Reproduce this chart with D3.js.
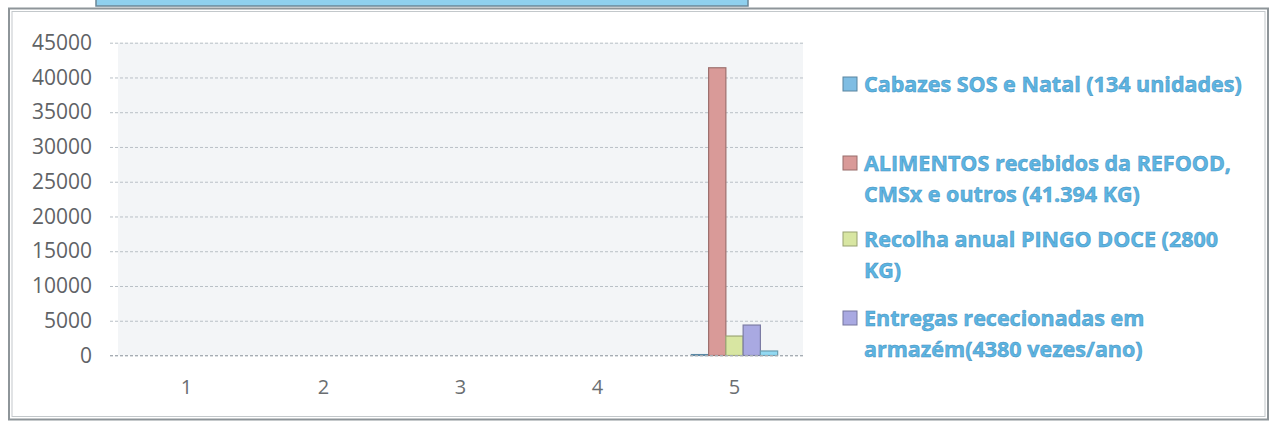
<html>
  <head>
    <meta charset='utf-8'>
    <script src='https://d3js.org/d3.v7.min.js'></script>
    <style>
      body { margin: 0; background: #fff; }
      text { font-family: 'Open Sans', sans-serif; }
    </style>
  </head>
  <body>
    <div id='chart'></div>
    <script>
        // data
        const categories = ['1', '2', '3', '4', '5'];
        const seriesNames = [
            'Cabazes SOS e Natal (134 unidades)',
            'ALIMENTOS recebidos da REFOOD, CMSx e outros (41.394 KG)',
            'Recolha anual PINGO DOCE (2800 KG)',
            'Entregas rececionadas em armazém(4380 vezes/ano)',
            ''
        ];
        const seriesColors = ['#7fbde3', '#d99a98', '#d8e6a2', '#a9a9e2', '#92d9f2'];
        // values per series, one per category
        const cabazes   = [0, 0, 0, 0, 134];
        const alimentos = [0, 0, 0, 0, 41394];
        const pingoDoce = [0, 0, 0, 0, 2800];
        const entregas  = [0, 0, 0, 0, 4380];
        const outro     = [0, 0, 0, 0, 650];
        const seriesValues = [cabazes, alimentos, pingoDoce, entregas, outro];
        const yTicks = [0, 5000, 10000, 15000, 20000, 25000, 30000, 35000, 40000, 45000];
        // legend lines as they wrap in the original
        const legendLines = [
            ['Cabazes SOS e Natal (134 unidades)'],
            ['ALIMENTOS recebidos da REFOOD,', 'CMSx e outros (41.394 KG)'],
            ['Recolha anual PINGO DOCE (2800', 'KG)'],
            ['Entregas rececionadas em', 'armazém(4380 vezes/ano)']
        ];

        const W = 1270, H = 424;
        const plot = { left: 118, right: 803, top: 42.7, bottom: 355.5 };

        var svg = d3.select('#chart').append('svg')
                    .attr('width', W)
                    .attr('height', H);

        // scanned picture pieces: blue strip at top and the double frame
        svg.append('rect')
           .attr('x', 96).attr('y', -2).attr('width', 652).attr('height', 8)
           .attr('fill', '#8fd0ee').attr('stroke', '#6b8797').attr('stroke-width', 1.5);
        svg.append('rect')
           .attr('x', 9).attr('y', 8.5).attr('width', 1259).attr('height', 411)
           .attr('fill', 'none').attr('stroke', '#8e9599').attr('stroke-width', 2);
        svg.append('rect')
           .attr('x', 12).attr('y', 11.5).attr('width', 1253).attr('height', 405)
           .attr('fill', 'none').attr('stroke', '#c3c8cb').attr('stroke-width', 1);

        const x = d3.scaleBand()
                    .domain(categories)
                    .range([plot.left, plot.right]);
        const groupW = x.bandwidth() * 0.63;
        const xInner = d3.scaleBand()
                    .domain(d3.range(seriesValues.length))
                    .range([0, groupW]);
        const y = d3.scaleLinear()
                    .domain([0, 45000])
                    .range([plot.bottom, plot.top]);

        // plot area background
        svg.append('rect')
           .attr('x', plot.left).attr('y', plot.top)
           .attr('width', plot.right - plot.left).attr('height', plot.bottom - plot.top)
           .attr('fill', '#f3f5f7');

        // gridlines
        var grid = svg.append('g')
                      .attr('transform', 'translate(' + plot.left + ',0)')
                      .call(d3.axisLeft(y).tickValues(yTicks)
                              .tickSize(-(plot.right - plot.left) - 8).tickFormat(''));
        grid.select('.domain').remove();
        grid.selectAll('line')
            .attr('transform', 'translate(-8,0)')
            .attr('stroke', '#b9c0c6')
            .attr('stroke-dasharray', '3,2')
            .attr('stroke-width', 1);

        // y labels
        var yAxis = svg.append('g')
                       .attr('transform', 'translate(' + (plot.left - 26) + ',0)')
                       .call(d3.axisLeft(y).tickValues(yTicks).tickFormat(d3.format('d'))
                               .tickSize(0).tickPadding(0));
        yAxis.select('.domain').remove();
        yAxis.selectAll('text')
             .attr('font-size', 21)
             .attr('fill', '#5f6366');

        // x labels
        var xAxis = svg.append('g')
                       .attr('transform', 'translate(0,' + (plot.bottom + 24) + ')')
                       .call(d3.axisBottom(x).tickSize(0).tickPadding(0));
        xAxis.select('.domain').remove();
        xAxis.selectAll('text')
             .attr('font-size', 20)
             .attr('fill', '#6a6e71');

        // bars
        seriesValues.forEach(function(vals, s) {
            svg.append('g').selectAll('rect')
               .data(vals.map(function(v, i) { return { cat: categories[i], v: v }; })
                         .filter(function(d) { return d.v > 0; }))
               .enter().append('rect')
               .attr('x', function(d) { return x(d.cat) + (x.bandwidth() - groupW) / 2 + xInner(s); })
               .attr('y', function(d) { return y(d.v); })
               .attr('width', xInner.bandwidth())
               .attr('height', function(d) { return y(0) - y(d.v); })
               .attr('fill', seriesColors[s])
               .attr('stroke', d3.color(seriesColors[s]).darker(0.9))
               .attr('stroke-width', 1.2);
        });

        // baseline
        svg.append('line')
           .attr('x1', plot.left - 8).attr('x2', plot.right)
           .attr('y1', y(0)).attr('y2', y(0))
           .attr('stroke', '#a6adb3').attr('stroke-dasharray', '3,2');

        // legend
        const legendY = [84, 163, 239, 318];
        var legend = svg.append('g');
        legendLines.forEach(function(lines, i) {
            var g = legend.append('g')
                          .attr('transform', 'translate(843,' + legendY[i] + ')');
            g.append('rect')
             .attr('x', 0).attr('y', -7).attr('width', 14).attr('height', 14)
             .attr('fill', seriesColors[i])
             .attr('stroke', d3.color(seriesColors[i]).darker(1))
             .attr('stroke-width', 1);
            lines.forEach(function(line, j) {
                g.append('text')
                 .attr('x', 21).attr('y', j * 31)
                 .attr('dy', '0.35em')
                 .attr('font-size', 21.5)
                 .attr('font-weight', 'bold')
                 .attr('fill', '#5db5e2')
                 .attr('stroke', '#3f8fbf')
                 .attr('stroke-width', 0.5)
                 .text(line);
            });
        });
    </script>
  </body>
</html>
